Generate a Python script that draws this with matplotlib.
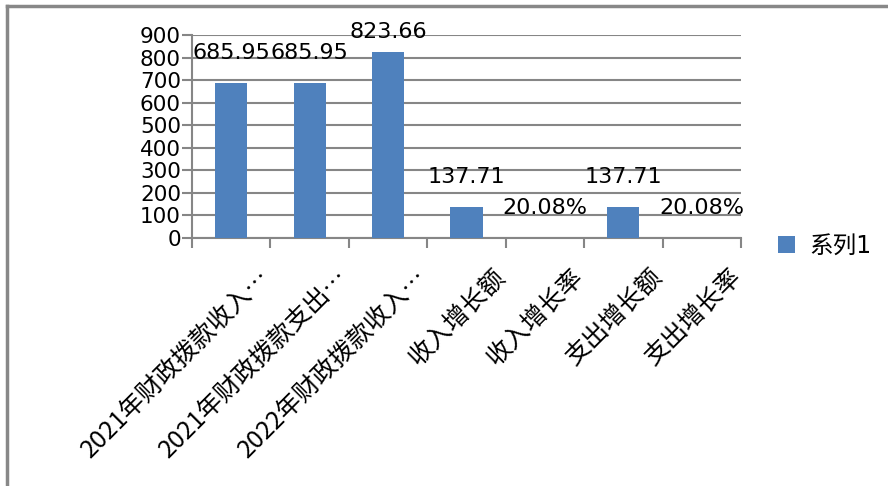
import numpy as np
import matplotlib.pyplot as plt
from matplotlib.transforms import ScaledTranslation
from matplotlib.patches import Patch
from matplotlib.lines import Line2D

plt.rcParams['font.family'] = ['DejaVu Sans', 'Noto Sans CJK SC']

# data
categories = ['2021年财政拨款收入…', '2021年财政拨款支出…', '2022年财政拨款收入…',
              '收入增长额', '收入增长率', '支出增长额', '支出增长率']
values = [685.95, 685.95, 823.66, 137.71, 0.2008, 137.71, 0.2008]
value_labels = ['685.95', '685.95', '823.66', '137.71', '20.08%', '137.71', '20.08%']
yticks = [0, 100, 200, 300, 400, 500, 600, 700, 800, 900]
series_name = '系列1'

bar_color = '#4F81BD'
grid_color = '#868686'

fig = plt.figure(figsize=(8.88, 4.86), dpi=100)
ax = fig.add_axes([192 / 888, 1 - 238 / 486, 549 / 888, 203 / 486])

x = np.arange(len(categories))
ax.bar(x, values, width=0.41, color=bar_color, zorder=3)

ax.set_xlim(-0.5, len(categories) - 0.5)
ax.set_ylim(0, 900)
ax.set_yticks(yticks)
ax.set_yticklabels([str(t) for t in yticks], fontsize=15.5)
ax.yaxis.grid(True, color=grid_color, linewidth=1.5, zorder=0)
ax.tick_params(axis='y', direction='out', length=7, width=1.5, color=grid_color, pad=1)

# ticks at category boundaries, labels at centres
ax.set_xticks(np.arange(len(categories) + 1) - 0.5)
ax.set_xticklabels([])
ax.tick_params(axis='x', which='major', direction='out', length=7, width=1.5, color=grid_color)
ax.set_xticks(x, minor=True)
ax.set_xticklabels(categories, minor=True, fontsize=18, rotation=45,
                   ha='right', va='center', rotation_mode='anchor',
                   family=['Noto Sans CJK SC', 'DejaVu Sans'])
ax.tick_params(axis='x', which='minor', length=0, pad=25)
for lab in ax.get_xticklabels(minor=True):
    lab.set_transform(lab.get_transform() + ScaledTranslation(0.35, 0, fig.dpi_scale_trans))

for s in ['top', 'right']:
    ax.spines[s].set_visible(False)
for s in ['left', 'bottom']:
    ax.spines[s].set_color(grid_color)
    ax.spines[s].set_linewidth(1.5)

# data labels above bars
for xi, v, t in zip(x, values, value_labels):
    ax.text(xi, min(v + 133, 913), t, ha='center', va='center', fontsize=16,
            clip_on=False, zorder=4)

# legend
handle = Patch(facecolor=bar_color, edgecolor='none')
fig.legend([handle], [series_name], loc='center left', bbox_to_anchor=(778 / 888, 1 - 246 / 486),
           frameon=False, fontsize=17, handlelength=0.72, handleheight=0.72,
           handletextpad=0.6, borderaxespad=0, borderpad=0)

# outer frame (left and top edges)
fig.add_artist(Line2D([7 / 888, 7 / 888], [0, 1 - 6 / 486], color='#888888', linewidth=2.5,
                      transform=fig.transFigure))
fig.add_artist(Line2D([7 / 888, 1], [1 - 6 / 486, 1 - 6 / 486], color='#888888', linewidth=2.5,
                      transform=fig.transFigure))

fig.savefig('out.png', dpi=100)
